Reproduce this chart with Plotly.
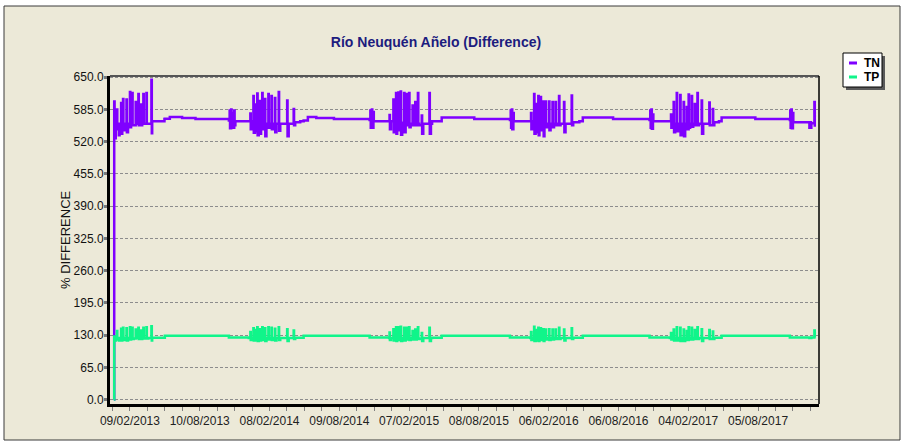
import plotly.graph_objects as go
import pandas as pd

title_text = "Río Neuquén Añelo (Difference)"
y_title = "% DIFFERENCE"
series_names = ["TN", "TP"]
series_colors = ["#7F00FF", "#10F58A"]

tick_labels = ["09/02/2013", "10/08/2013", "08/02/2014", "09/08/2014", "07/02/2015",
               "08/08/2015", "06/02/2016", "06/08/2016", "04/02/2017", "05/08/2017"]
y_ticks = [0, 65, 130, 195, 260, 325, 390, 455, 520, 585, 650]

dates_2013 = ["2012-12-29","2012-12-30","2012-12-31","2013-01-02","2013-01-03","2013-01-06","2013-01-07",
              "2013-01-09","2013-01-11","2013-01-13","2013-01-17","2013-01-18","2013-01-20","2013-01-22",
              "2013-01-23","2013-01-26","2013-01-31","2013-02-01","2013-02-04","2013-02-09","2013-02-10",
              "2013-02-12","2013-02-15","2013-02-16","2013-02-19","2013-02-24","2013-02-25","2013-03-03",
              "2013-03-04","2013-03-06","2013-03-10","2013-03-11","2013-03-13","2013-03-16","2013-03-17",
              "2013-03-20","2013-03-24","2013-03-25","2013-03-29","2013-04-06","2013-04-07","2013-04-08",
              "2013-04-28","2013-05-10","2013-05-11","2013-05-24","2013-06-24","2013-06-25","2013-07-29",
              "2013-07-30","2013-10-21"]
tn_2013 = [0,601,550,527,556,585,545,556,533,556,598,536,556,606,543,556,605,539,556,620,549,556,618,553,553,
           600,556,616,553,556,595,553,556,616,556,556,618,556,556,645,537,561,561,566,566.5,570,570,568,568,566,566]
tp_2013 = [0,127,124,119,124,138,121,124,119,124,143,119,124,145,120,124,144,119,124,146,121,124,145,122,123,
           141,124,145,122,124,139,122,124,145,123,124,146,123,124,148,119,124.5,124.5,124.5,
           128.5,128.5,128.5,128.5,128.5,128.5,128.5]

dates_2014 = ["2013-10-25","2013-10-27","2013-10-28","2013-10-31","2013-11-01","2013-11-04","2013-11-05",
              "2013-11-08","2013-11-09","2013-11-11","2013-12-14","2013-12-16","2013-12-20","2013-12-21",
              "2013-12-24","2013-12-28","2013-12-29","2014-01-01","2014-01-03","2014-01-04","2014-01-07",
              "2014-01-08","2014-01-11","2014-01-14","2014-01-15","2014-01-17","2014-01-20","2014-01-21",
              "2014-01-24","2014-01-27","2014-01-28","2014-01-31","2014-02-05","2014-02-06","2014-02-09",
              "2014-02-13","2014-02-14","2014-02-17","2014-02-22","2014-02-23","2014-02-26","2014-03-04",
              "2014-03-05","2014-03-08","2014-03-15","2014-03-26","2014-03-27","2014-03-30","2014-04-12",
              "2014-04-13","2014-04-16","2014-04-29","2014-05-07","2014-05-08","2014-05-19","2014-06-08",
              "2014-06-10","2014-07-24","2014-07-26","2014-10-24"]
tn_2014 = [563,583,547,585,550,578,548,583,553,561,561,561,577,545,561,612,538,556,595,541,617,533,556,602,536,
           556,618,545,556,606,531,556,616,548,556,612,545,556,608,539,556,620,542,556,556,603,531,556,586,553,
           559,561,561,563,570,570,568,568,566,566]
tp_2014 = [125,125,125,125,125,125,125,125,125,125,125,124,136,120,124,144,119,124,140,120,146,118,124,142,119,
           124,146,120,124,144,118,124,146,121,124,145,120,124,143,119,124,146,120,124,124,142,118,124,139,122,
           124.5,124.5,124.5,128.5,128.5,128.5,128.5,128.5,128.5,128.5]

dates_2015 = ["2014-10-27","2014-10-29","2014-10-30","2014-11-02","2014-11-03","2014-11-06","2014-11-07",
              "2014-12-09","2014-12-17","2014-12-18","2014-12-19","2014-12-22","2014-12-28","2014-12-29",
              "2015-01-01","2015-01-04","2015-01-05","2015-01-07","2015-01-10","2015-01-11","2015-01-13",
              "2015-01-16","2015-01-17","2015-01-20","2015-01-25","2015-01-26","2015-01-29","2015-02-01",
              "2015-02-02","2015-02-05","2015-02-07","2015-02-08","2015-02-11","2015-02-16","2015-02-17",
              "2015-02-20","2015-02-23","2015-02-24","2015-02-27","2015-03-02","2015-03-03","2015-03-05",
              "2015-03-12","2015-03-13","2015-03-16","2015-03-24","2015-04-01","2015-04-02","2015-04-05",
              "2015-04-08","2015-04-28","2015-05-03","2015-07-24","2015-07-27","2015-10-27"]
tn_2015 = [564,583,548,585,548,580,561,561,561,574,545,561,605,539,556,618,536,560,619,543,556,621,534,558,618,
           539,560,616,553,556,618,549,556,593,553,556,600,553,556,618,556,553,573,536,556,556,618,536,556,561,
           561,569,569,566,566]
tp_2015 = [125,125,125,125,125,125,125,125,124,135,120,124,142,119,124,146,118,124,146,120,124,147,118,124,145,
           119,124,145,121,124,146,120,124,138,121,124,141,121,124,146,123,122,134,118,124,124,145,118,124,124.5,
           124.5,128.5,128.5,128.5,128.5]

dates_2016 = ["2015-10-28","2015-10-30","2015-10-31","2015-11-02","2015-11-03","2015-11-06","2015-11-07",
              "2015-12-13","2015-12-20","2015-12-22","2015-12-23","2015-12-26","2015-12-30","2015-12-31",
              "2016-01-03","2016-01-06","2016-01-07","2016-01-10","2016-01-11","2016-01-13","2016-01-16",
              "2016-01-17","2016-01-20","2016-01-23","2016-01-24","2016-01-26","2016-01-29","2016-01-30",
              "2016-02-02","2016-02-07","2016-02-08","2016-02-11","2016-02-16","2016-02-17","2016-02-20",
              "2016-02-24","2016-02-25","2016-02-28","2016-03-04","2016-03-05","2016-03-08","2016-03-17",
              "2016-03-18","2016-03-21","2016-04-06","2016-04-07","2016-04-10","2016-04-26","2016-05-05",
              "2016-07-20","2016-07-23","2016-10-24"]
tn_2016 = [564,583,548,585,545,578,561,561,561,578,545,561,616,536,558,596,539,612,533,556,610,543,556,601,531,
           556,601,549,556,601,543,556,600,549,556,600,553,556,612,553,556,600,539,556,613,553,559,561,569,569,
           566,566]
tp_2016 = [125,125,125,125,125,125,125,125,124,136,120,124,147,118,124,140,119,145,118,124,144,120,124,142,118,
           124,141,121,124,142,120,124,141,121,124,141,122,124,145,122,124,141,119,124,144,122,124.5,124.5,
           128.5,128.5,128.5,128.5]

dates_2017 = ["2016-10-26","2016-10-28","2016-10-29","2016-10-31","2016-11-01","2016-11-04","2016-11-05",
              "2016-12-11","2016-12-18","2016-12-21","2016-12-22","2016-12-25","2016-12-28","2016-12-29",
              "2017-01-01","2017-01-05","2017-01-06","2017-01-09","2017-01-14","2017-01-15","2017-01-18",
              "2017-01-23","2017-01-24","2017-01-27","2017-01-31","2017-02-01","2017-02-05","2017-02-06",
              "2017-02-09","2017-02-13","2017-02-14","2017-02-17","2017-02-21","2017-02-22","2017-02-28",
              "2017-03-01","2017-03-04","2017-03-11","2017-03-12","2017-03-15","2017-03-21","2017-03-31",
              "2017-04-01","2017-04-09","2017-04-10","2017-04-13","2017-04-25","2017-05-02","2017-07-26",
              "2017-07-29"]
tn_2017 = [564,583,548,585,546,575,561,561,561,575,548,561,600,539,556,618,541,556,614,533,556,600,531,556,590,
           545,615,548,556,612,550,556,596,553,618,553,556,603,536,556,556,599,553,586,553,559,561,569,569,566]
tp_2017 = [125,125,125,125,125,125,125,125,124,134,121,124,141,119,124,146,119,124,145,118,124,141,118,124,138,
           120,146,121,124,145,121,124,140,122,146,122,124,142,118,124,124,140,122,137,122,124.5,124.5,128.5,
           128.5,128.5]

dates_2018 = ["2017-10-25","2017-10-27","2017-10-28","2017-10-29","2017-10-31","2017-11-01","2017-11-04",
              "2017-11-05","2017-12-16","2017-12-17","2017-12-19","2017-12-21","2017-12-22","2017-12-29",
              "2017-12-30","2017-12-31"]
tn_2018 = [566,564,583,548,585,547,578,559,559,548,559,548,557,557,600,550]
tp_2018 = [128.5,125,125,125,125,125,125,125,125,124,125,124,125,125,139,125]

dates = dates_2013 + dates_2014 + dates_2015 + dates_2016 + dates_2017 + dates_2018
tn_values = tn_2013 + tn_2014 + tn_2015 + tn_2016 + tn_2017 + tn_2018
tp_values = tp_2013 + tp_2014 + tp_2015 + tp_2016 + tp_2017 + tp_2018

# ---- layout geometry (pixels) ----
W, H = 904, 443
L, R, T, B = 110, 85, 76, 39
PW, PH = W - L - R, H - T - B


def px(x):
    return (x - L) / PW


def py(y):
    return (H - B - y) / PH


major = pd.to_datetime(tick_labels, format="%d/%m/%Y")
step = (major[1:] - major[:-1]).mean()
minor = []
for i, m in enumerate(major):
    for k in (1, 2, 3):
        minor.append(m + step * k / 4)
minor.append(major[0] - step / 4)
minor_vals = [d.strftime("%Y-%m-%d %H:%M") for d in minor]

fig = go.Figure()
for name, color, vals in zip(series_names, series_colors, [tn_values, tp_values]):
    fig.add_trace(go.Scatter(x=dates, y=vals, mode="lines", name=name,
                             line=dict(color=color, width=2.5, shape="hv"), showlegend=False))

font_family = "Arial, Liberation Sans, Helvetica, sans-serif"

shapes = [
    # outer frame
    dict(type="rect", xref="paper", yref="paper", x0=px(4), x1=px(900), y0=py(440), y1=py(6),
         fillcolor="#ECE9D8", line=dict(color="#3a3a3a", width=1), layer="below"),
    # top and right plot borders
    dict(type="line", xref="paper", yref="paper", x0=0, x1=1, y0=1, y1=1,
         line=dict(color="#555555", width=2)),
    dict(type="line", xref="paper", yref="paper", x0=1, x1=1, y0=0, y1=1,
         line=dict(color="#000000", width=1.5)),
    # legend shadow and box
    dict(type="rect", xref="paper", yref="paper", x0=px(846), x1=px(885), y0=py(90), y1=py(56),
         fillcolor="#5a5a5a", line=dict(width=0)),
    dict(type="rect", xref="paper", yref="paper", x0=px(843), x1=px(882), y0=py(87), y1=py(53),
         fillcolor="#FFFFFF", line=dict(color="#000000", width=1)),
    dict(type="line", xref="paper", yref="paper", x0=px(849), x1=px(857), y0=py(63), y1=py(63),
         line=dict(color=series_colors[0], width=3)),
    dict(type="line", xref="paper", yref="paper", x0=px(849), x1=px(857), y0=py(77), y1=py(77),
         line=dict(color=series_colors[1], width=3)),
]

annotations = [
    dict(text="<b>TN</b>", x=px(862), y=py(63), xref="paper", yref="paper", xanchor="left",
         yanchor="middle", showarrow=False, font=dict(family=font_family, size=12, color="#000")),
    dict(text="<b>TP</b>", x=px(862), y=py(77), xref="paper", yref="paper", xanchor="left",
         yanchor="middle", showarrow=False, font=dict(family=font_family, size=12, color="#000")),
    dict(text=y_title, x=px(65), y=py(240), xref="paper", yref="paper", xanchor="center",
         yanchor="middle", textangle=-90, showarrow=False,
         font=dict(family=font_family, size=13, color="#111")),
]

fig.update_layout(
    width=W, height=H,
    margin=dict(l=L, r=R, t=T, b=B, pad=0),
    paper_bgcolor="#FFFFFF",
    plot_bgcolor="#ECE9D8",
    title=dict(text="<b>" + title_text + "</b>", x=436 / W, y=1 - 42 / H, xref="container",
               yref="container", xanchor="center", yanchor="middle",
               font=dict(family=font_family, size=14, color="#1C1C7E")),
    shapes=shapes,
    annotations=annotations,
    showlegend=False,
    xaxis=dict(
        type="date", range=["2012-12-19", "2018-01-11"],
        tickmode="array", tickvals=list(major), ticktext=tick_labels,
        ticks="outside", ticklen=4, tickwidth=1, tickcolor="#808080",
        showline=True, linecolor="#000000", linewidth=3,
        showgrid=False, zeroline=False,
        tickfont=dict(family=font_family, size=12, color="#222"),
        minor=dict(tickmode="array", tickvals=minor_vals, ticks="outside", ticklen=4,
                   tickwidth=1, tickcolor="#808080", showgrid=False),
    ),
    yaxis=dict(
        range=[-9, 652.5],
        tickmode="array", tickvals=y_ticks, ticktext=["%.1f" % v for v in y_ticks],
        ticks="outside", ticklen=3, tickwidth=3, tickcolor="#7a7a7a",
        ticklabelstandoff=-2,
        showline=True, linecolor="#000000", linewidth=3,
        showgrid=True, gridcolor="#8c8c8c", gridwidth=1, griddash="3px,2px",
        zeroline=False,
        tickfont=dict(family=font_family, size=12, color="#111"),
    ),
)

fig.write_html("out.html", config={"displayModeBar": False},
               post_script="document.body.style.margin='0px';")
